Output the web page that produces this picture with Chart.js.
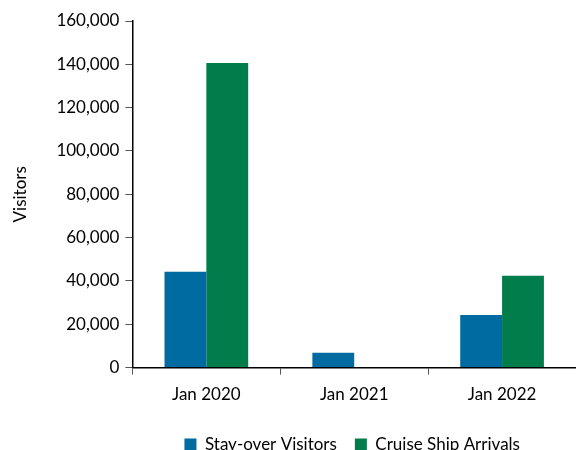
<!DOCTYPE html>
<html>
<head>
<meta charset="utf-8">
<script src="https://cdn.jsdelivr.net/npm/chart.js@4.4.1/dist/chart.umd.min.js"></script>
<style>
  html, body { margin: 0; padding: 0; background: #fff; }
  #wrap { width: 576px; height: 450px; }
</style>
</head>
<body>
<div id="wrap"><canvas id="visitorsChart"></canvas></div>
<script>
const months = ["Jan 2020", "Jan 2021", "Jan 2022"];
const stayOver = [44300, 6800, 24300];
const cruiseShip = [140600, 0, 42400];

const ctx = document.getElementById("visitorsChart");

Chart.defaults.font.family = "Lato, 'Open Sans', sans-serif";
Chart.defaults.font.size = 17;
Chart.defaults.color = "#000";

// centre the legend under the plot area instead of the whole canvas
const legendUnderPlot = {
    id: "legendUnderPlot",
    afterLayout(chart) {
        if (chart.legend) {
            chart.legend.left = chart.chartArea.left - 4;
            chart.legend.adjustHitBoxes();
        }
    }
};

new Chart(ctx, {
    type: "bar",
    data: {
        labels: months,
        datasets: [
            {
                label: "Stay-over Visitors",
                data: stayOver,
                backgroundColor: "#006ba1",
                categoryPercentage: 0.566,
                barPercentage: 1.0
            },
            {
                label: "Cruise Ship Arrivals",
                data: cruiseShip,
                backgroundColor: "#007d4a",
                categoryPercentage: 0.566,
                barPercentage: 1.0
            }
        ]
    },
    options: {
        responsive: true,
        maintainAspectRatio: false,
        animation: false,
        layout: {
            padding: { top: 21, left: 10, right: 0, bottom: -13 }
        },
        scales: {
            x: {
                grid: {
                    drawOnChartArea: false,
                    color: "#555",
                    tickLength: 7
                },
                border: { color: "#000", width: 1.5 },
                ticks: { padding: 10 },
                // keeps the axis line in place while the legend sits lower
                afterFit: (scale) => { scale.height += 3; }
            },
            y: {
                min: 0,
                max: 160000,
                ticks: {
                    stepSize: 20000,
                    padding: 6,
                    callback: (v) => v.toLocaleString("en-US")
                },
                grid: {
                    drawOnChartArea: false,
                    color: "#555",
                    tickLength: 7
                },
                border: { color: "#000", width: 1.5 },
                title: {
                    display: true,
                    text: "Visitors",
                    padding: { top: 0, bottom: 20 }
                }
            }
        },
        plugins: {
            legend: {
                position: "bottom",
                labels: {
                    boxWidth: 12,
                    boxHeight: 12,
                    padding: 18
                }
            },
            tooltip: { enabled: false }
        }
    },
    plugins: [legendUnderPlot]
});
</script>
</body>
</html>
